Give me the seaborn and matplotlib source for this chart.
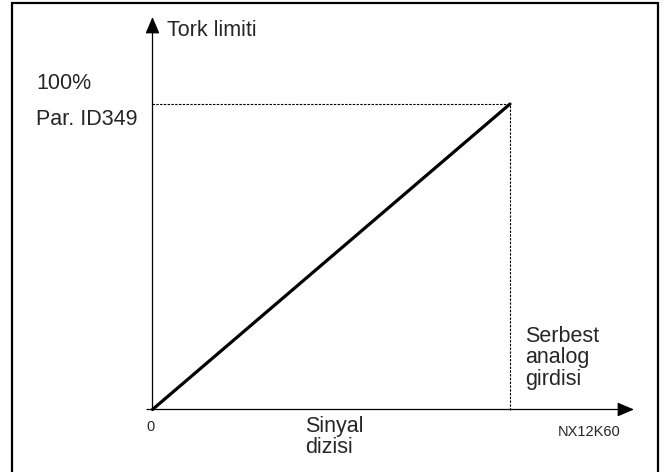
import matplotlib
matplotlib.use("Agg")
import matplotlib.pyplot as plt
import seaborn as sns
import pandas as pd
from matplotlib.patches import Rectangle

# Torque limit versus the free analogue input signal (both in percent of range)
signal_pct = [0, 100]
torque_pct = [0, 100]
y_labels = ["100%", "Par. ID349"]
y_title = "Tork limiti"
x_title = "Sinyal\ndizisi"
x_end_label = "Serbest\nanalog\ngirdisi"
origin_label = "0"
figure_code = "NX12K60"

sns.set_theme(style="white")
plt.rcParams["font.family"] = ["Liberation Sans", "DejaVu Sans"]

W, H = 670, 472
fig = plt.figure(figsize=(W / 100, H / 100), dpi=100)
ax = fig.add_axes([0, 0, 1, 1])

# pixel layout of the diagram: origin and the 100 % corner
ox, oy = 152.5, 409.5
px_per_x = (510 - ox) / 100.0
px_per_y = (oy - 104) / 100.0
ax.set_xlim(-ox / px_per_x, (W - ox) / px_per_x)
ax.set_ylim(-(H - oy) / px_per_y, oy / px_per_y)
ax.axis("off")

def xd(px):
    return (px - ox) / px_per_x

def yd(py):
    return (oy - py) / px_per_y

df = pd.DataFrame({"signal": signal_pct, "torque": torque_pct})
sns.lineplot(data=df, x="signal", y="torque", color="black", lw=2.3,
             ax=ax, legend=False, solid_capstyle="round")

xmax, ymax = signal_pct[-1], torque_pct[-1]
# dashed guides to the 100 % point
ax.plot([0, xmax], [ymax, ymax], color="black", lw=0.8, ls=(0, (2.2, 1.2)))
ax.plot([xmax, xmax], [0, ymax], color="black", lw=0.8, ls=(0, (2.2, 1.2)))

# axes with arrowheads
arrow = dict(arrowstyle="-|>,head_length=0.85,head_width=0.36", lw=0.9,
             color="black", shrinkA=0, shrinkB=0)
ax.annotate("", xy=(xd(634), 0), xytext=(xd(147), 0), arrowprops=arrow)
ax.annotate("", xy=(0, yd(17)), xytext=(0, 0), arrowprops=arrow)

fs = 15.5
ax.text(xd(167), yd(30), y_title, fontsize=fs, ha="left", va="center")
ax.text(xd(36), yd(83), y_labels[0], fontsize=fs, ha="left", va="center")
ax.text(xd(36), yd(119), y_labels[1], fontsize=fs, ha="left", va="center")
ax.text(xd(305), yd(437), x_title, fontsize=fs, ha="left", va="center",
        linespacing=0.95)
ax.text(xd(525), yd(358), x_end_label, fontsize=fs, ha="left", va="center",
        linespacing=1.0)
ax.text(xd(151), yd(427), origin_label, fontsize=10.5, ha="center", va="center")
ax.text(xd(589), yd(432), figure_code, fontsize=10.5, ha="center", va="center")

# outer frame (open at the bottom edge of the image)
fig.patches.append(Rectangle((12 / W, -0.05), (658 - 12) / W, 1.05 - 3 / H,
                             transform=fig.transFigure, fill=False,
                             edgecolor="black", lw=1.6))

fig.savefig("out.png", dpi=100)
